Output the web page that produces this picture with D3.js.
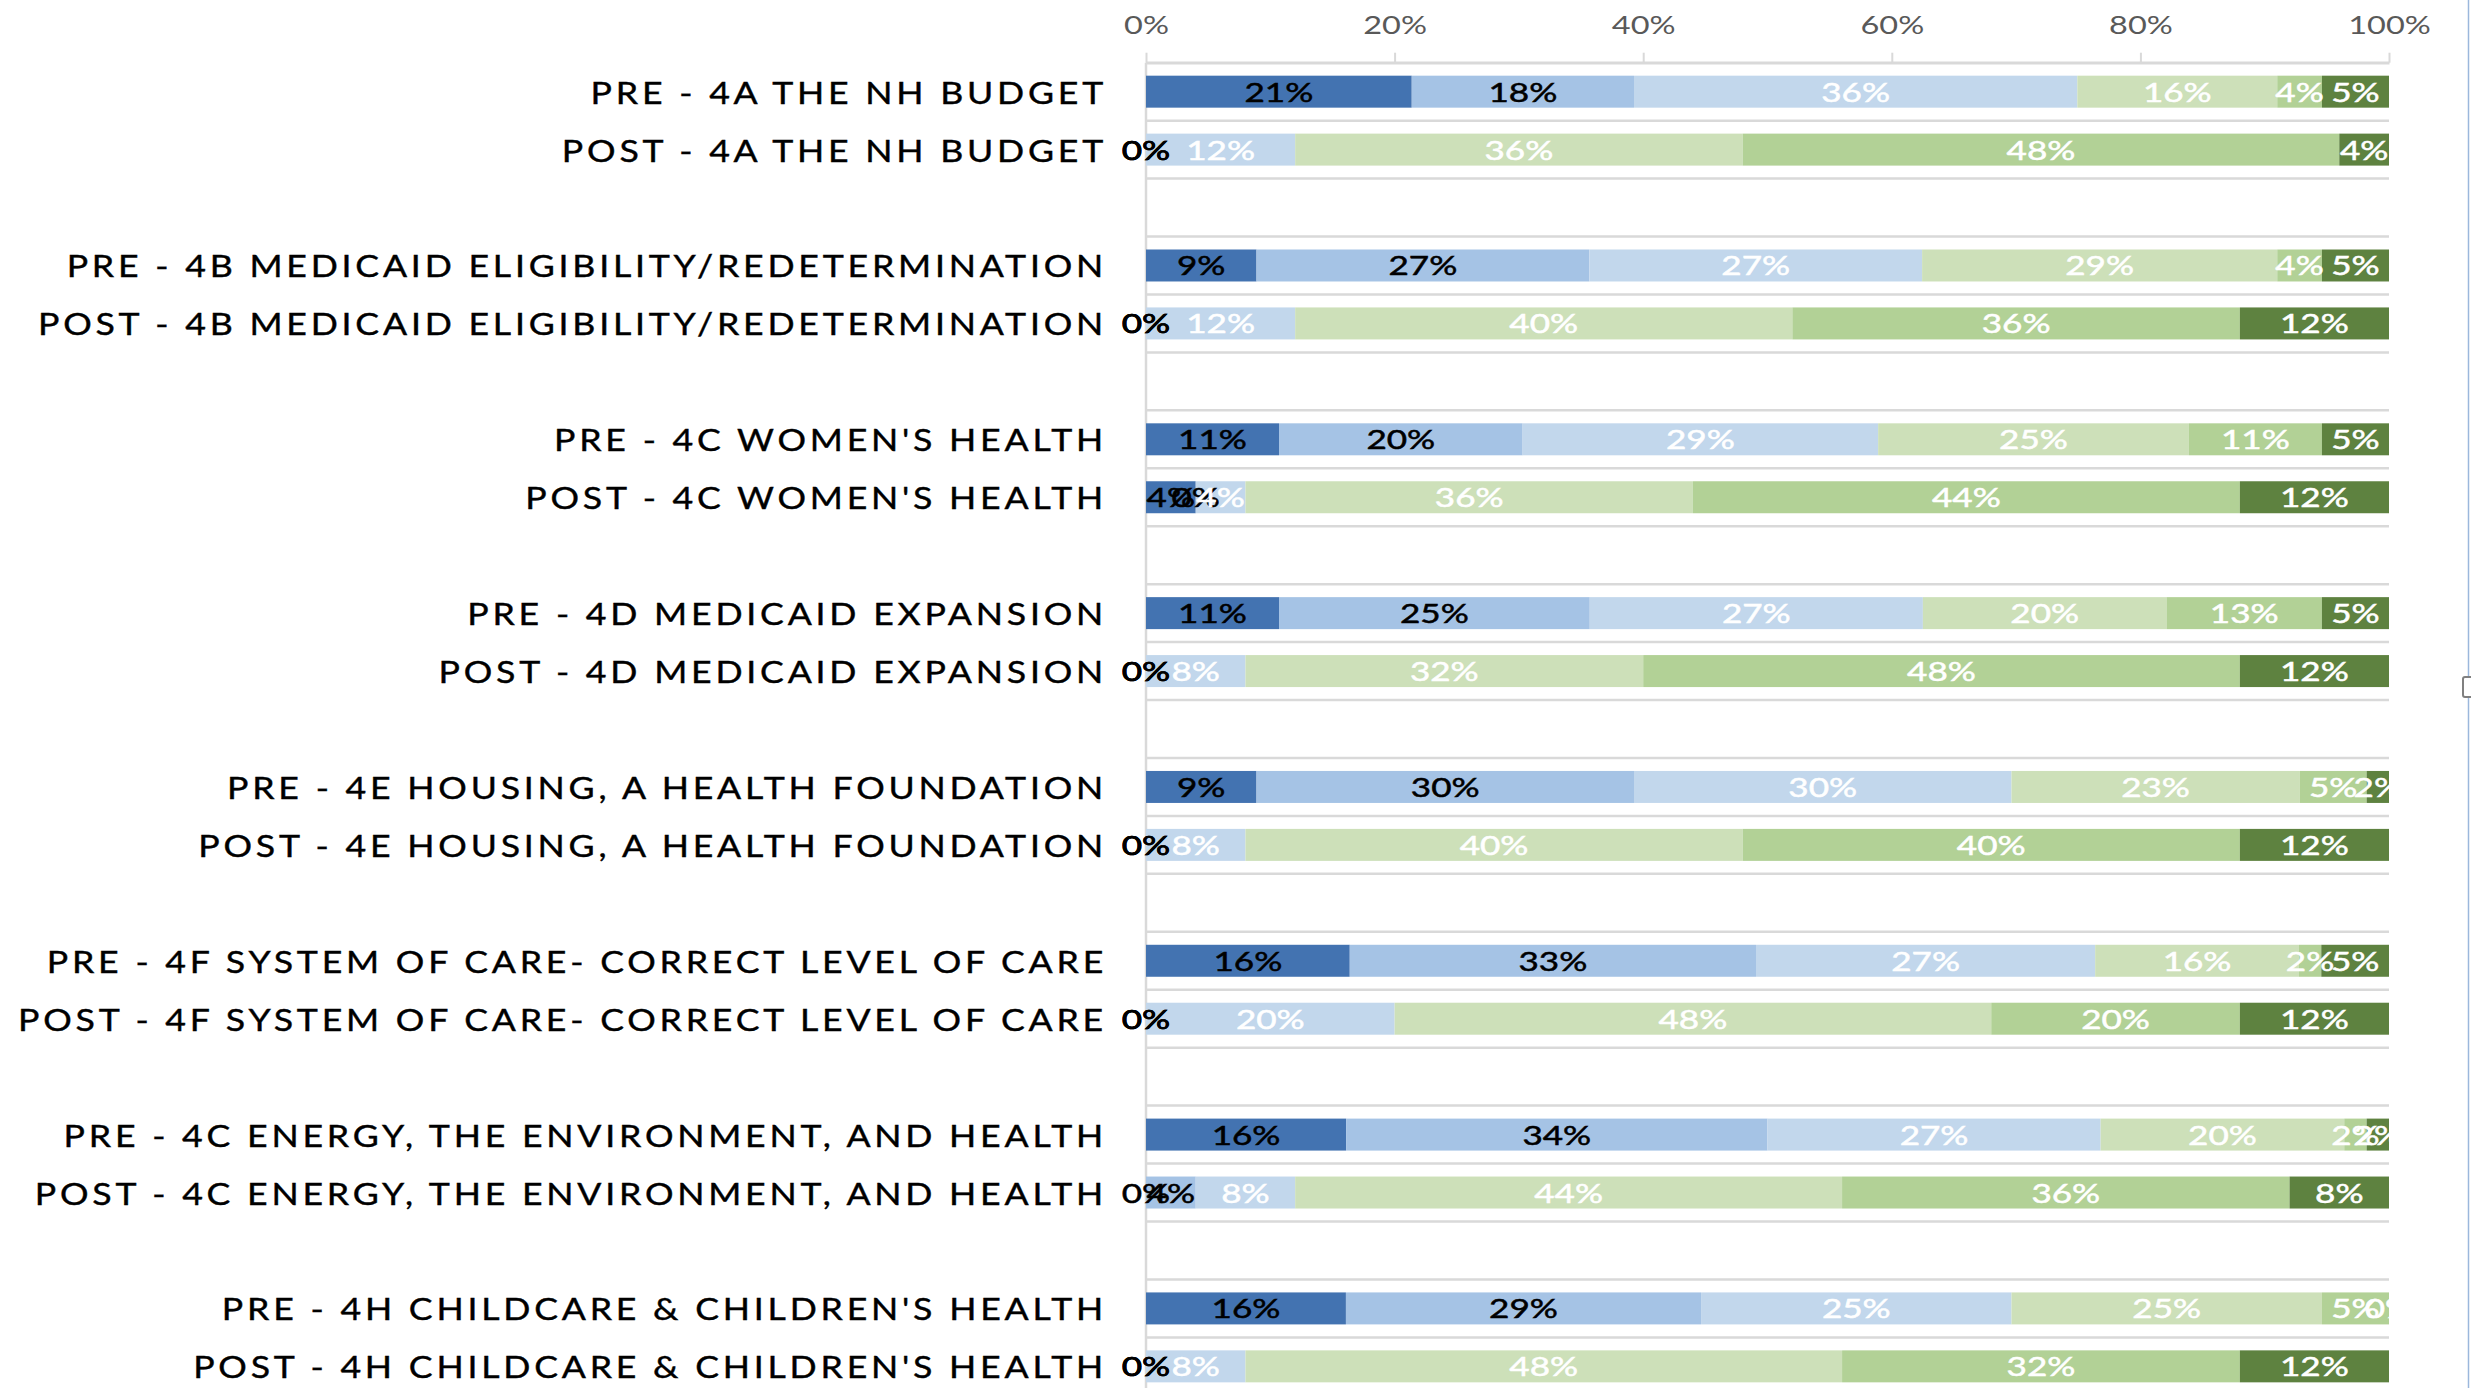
<!DOCTYPE html>
<html>
<head>
<meta charset="utf-8">
<script src="https://cdn.jsdelivr.net/npm/d3@7"></script>
<style>
  html, body { margin: 0; padding: 0; background: #ffffff; }
  svg { display: block; }
  text { font-family: Lato, "Open Sans", sans-serif; }
</style>
</head>
<body>
<svg id="chart" width="2471" height="1388"></svg>
<script>
// ---- Data (percent of respondents) ----
const rowLabels = [
  "PRE - 4A THE NH BUDGET",
  "POST - 4A THE NH BUDGET",
  "PRE - 4B MEDICAID ELIGIBILITY/REDETERMINATION",
  "POST - 4B MEDICAID ELIGIBILITY/REDETERMINATION",
  "PRE - 4C WOMEN'S HEALTH",
  "POST - 4C WOMEN'S HEALTH",
  "PRE - 4D MEDICAID EXPANSION",
  "POST - 4D MEDICAID EXPANSION",
  "PRE - 4E HOUSING, A HEALTH FOUNDATION",
  "POST - 4E HOUSING, A HEALTH FOUNDATION",
  "PRE - 4F SYSTEM OF CARE- CORRECT LEVEL OF CARE",
  "POST - 4F SYSTEM OF CARE- CORRECT LEVEL OF CARE",
  "PRE - 4C ENERGY, THE ENVIRONMENT, AND HEALTH",
  "POST - 4C ENERGY, THE ENVIRONMENT, AND HEALTH",
  "PRE - 4H CHILDCARE & CHILDREN'S HEALTH",
  "POST - 4H CHILDCARE & CHILDREN'S HEALTH"
];

const seriesKeys = ["level1", "level2", "level3", "level4", "level5", "level6"];

const level1 = [21.4, 0, 8.9, 0, 10.7, 4, 10.7, 0, 8.9, 0, 16.4, 0, 16.1, 0, 16.1, 0];
const level2 = [17.9, 0, 26.8, 0, 19.6, 0, 25.0, 0, 30.4, 0, 32.7, 0, 33.9, 4, 28.6, 0];
const level3 = [35.7, 12, 26.8, 12, 28.6, 4, 26.8, 8, 30.4, 8, 27.3, 20, 26.8, 8, 25.0, 8];
const level4 = [16.1, 36, 28.6, 40, 25.0, 36, 19.6, 32, 23.2, 40, 16.4, 48, 19.6, 44, 25.0, 48];
const level5 = [3.6, 48, 3.6, 36, 10.7, 44, 12.5, 48, 5.4, 40, 1.8, 20, 1.8, 36, 5.4, 32];
const level6 = [5.4, 4, 5.4, 12, 5.4, 12, 5.4, 12, 1.8, 12, 5.45, 12, 1.8, 8, 0, 12];

const tickValues = [0, 0.2, 0.4, 0.6, 0.8, 1];

const seriesColors = ["#4373b1", "#a5c3e5", "#c2d7ec", "#cde0b9", "#b2d196", "#5e8240"];
const labelColors  = ["#000000", "#000000", "#ffffff", "#ffffff", "#ffffff", "#ffffff"];

// ---- Build table ----
const seriesValues = [level1, level2, level3, level4, level5, level6];
const rows = rowLabels.map((label, i) => {
  const r = { key: label, label: label };
  seriesKeys.forEach((k, j) => { r[k] = seriesValues[j][i]; });
  return r;
});

// category slots: PRE, POST, blank spacer per group
const slotKeys = [];
for (let g = 0; g < rowLabels.length / 2; g++) {
  slotKeys.push(rowLabels[2 * g], rowLabels[2 * g + 1], "gap" + g);
}

// ---- Layout ----
const svg = d3.select("#chart");
const SX = 1.3;   // horizontal glyph stretch of the original picture (numbers)
const SXC = 1.15; // stretch for category labels

const x = d3.scaleLinear().domain([0, 1]).range([1146, 2389]);
const yTop = 62.7, step = 57.94;
const y = d3.scaleBand()
  .domain(slotKeys)
  .range([yTop, yTop + step * slotKeys.length])
  .paddingInner(0.448)
  .paddingOuter(0.224);
const bw = y.bandwidth();
const gapHalf = (y.step() - bw) / 2;

const stack = d3.stack().keys(seriesKeys).offset(d3.stackOffsetExpand);
const stacked = stack(rows);

// ---- Gridlines ----
const gridG = svg.append("g");
const boundaries = slotKeys.map(k => y(k) - gapHalf);
gridG.selectAll("line")
  .data(boundaries)
  .join("line")
  .attr("x1", x(0)).attr("x2", x(1))
  .attr("y1", d => d).attr("y2", d => d)
  .attr("stroke", "#d9d9d9")
  .attr("stroke-width", 2.5);

// vertical axis line
svg.append("line")
  .attr("x1", x(0)).attr("x2", x(0))
  .attr("y1", yTop).attr("y2", 1388)
  .attr("stroke", "#d9d9d9")
  .attr("stroke-width", 2.5);

// ---- Top value axis ----
const axis = d3.axisTop(x)
  .tickValues(tickValues)
  .tickFormat(d3.format(".0%"))
  .tickSize(10)
  .tickSizeOuter(0);
const axG = svg.append("g").attr("transform", `translate(0,${yTop})`).call(axis);
axG.select(".domain").attr("stroke", "#d9d9d9").attr("stroke-width", 2.5);
axG.selectAll(".tick line").attr("stroke", "#d9d9d9").attr("stroke-width", 2);
axG.selectAll(".tick text")
  .attr("y", null).attr("dy", null)
  .attr("transform", `translate(0,${33.5 - yTop}) scale(${SX},1)`)
  .attr("fill", "#595959")
  .style("font-size", "25px")
  .style("font-family", "Lato, 'Open Sans', sans-serif");

// ---- Bars ----
const barsG = svg.append("g");
stacked.forEach((s, si) => {
  barsG.append("g")
    .attr("fill", seriesColors[si])
    .selectAll("rect")
    .data(s)
    .join("rect")
    .attr("x", d => x(d[0]))
    .attr("width", d => Math.max(0, x(d[1]) - x(d[0])))
    .attr("y", d => y(d.data.key))
    .attr("height", bw);
});

// ---- Data labels ----
svg.append("clipPath").attr("id", "labelClip")
  .append("rect").attr("x", 0).attr("y", 0).attr("width", x(1)).attr("height", 1388);
const labG = svg.append("g").attr("clip-path", "url(#labelClip)");
const fmt = d3.format(".0%");
stacked.forEach((s, si) => {
  labG.append("g")
    .selectAll("text")
    .data(s)
    .join("text")
    .attr("text-anchor", "middle")
    .attr("transform", d => `translate(${(x(d[0]) + x(d[1])) / 2},${y(d.data.key) + bw / 2 + 10}) scale(${SX},1)`)
    .attr("fill", labelColors[si])
    .attr("stroke", labelColors[si])
    .attr("stroke-width", 0.5)
    .style("font-size", "27px")
    .text(d => fmt(d.data[seriesKeys[si]] / 100));
});

// ---- Category labels ----
svg.append("g")
  .selectAll("text")
  .data(rows)
  .join("text")
  .attr("text-anchor", "end")
  .attr("transform", d => `translate(1107,${y(d.key) + bw / 2 + 12}) scale(${SXC},1)`)
  .attr("fill", "#000000")
  .attr("stroke", "#000000")
  .attr("stroke-width", 0.4)
  .style("font-size", "31px")
  .style("letter-spacing", "3.3px")
  .text(d => d.label);

// ---- Chart frame edge and handle ----
svg.append("line")
  .attr("x1", 2468.5).attr("x2", 2468.5)
  .attr("y1", 0).attr("y2", 1388)
  .attr("stroke", "#9bb7dc").attr("stroke-width", 1.5);
svg.append("rect")
  .attr("x", 2463).attr("y", 677).attr("width", 12).attr("height", 20).attr("rx", 2)
  .attr("fill", "#ffffff").attr("stroke", "#808080").attr("stroke-width", 2);
</script>
</body>
</html>
